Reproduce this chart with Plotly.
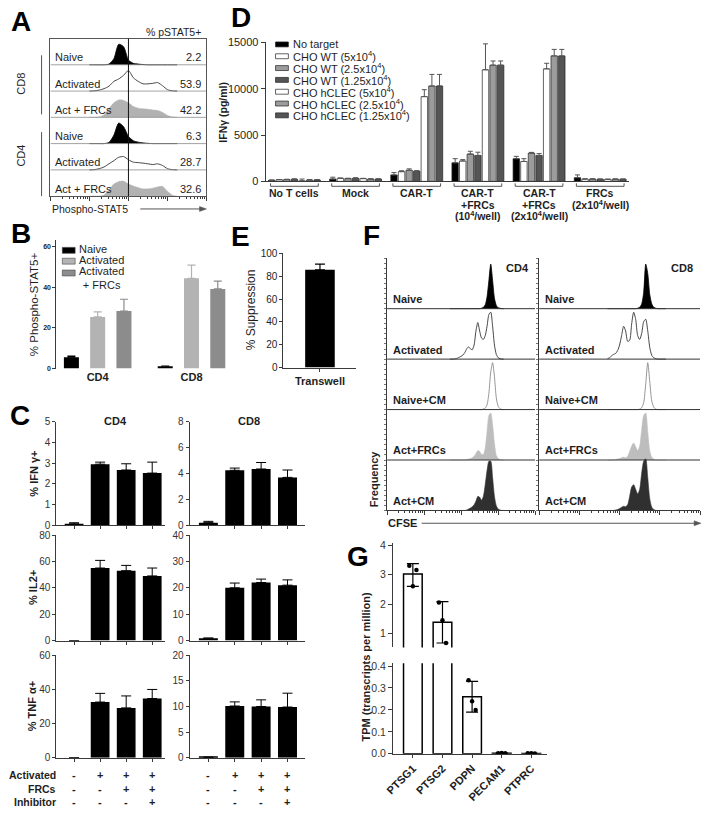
import math
import plotly.graph_objects as go

W, H = 703, 814
FONT = "Liberation Sans, Arial, Helvetica, sans-serif"
INK = "#1e1e1e"
AX = "#3a3a3a"

# ================= DATA =================
# ---- Panel A: phospho-STAT5 histograms (row heights) ----
a_row_labels = ["Naive", "Activated", "Act + FRCs", "Naive", "Activated", "Act + FRCs"]
a_pct_text = ["2.2", "53.9", "42.2", "6.3", "28.7", "32.6"]
a_side_labels = ["CD8", "CD4"]
a_bins = [1.0, 1.125, 1.25, 1.375, 1.5, 1.625, 1.75, 1.875, 2.0, 2.125, 2.25, 2.375,
          2.5, 2.625, 2.75, 2.875, 3.0, 3.125, 3.25]
a_cd8_naive = [0, 0, 0, 0, 0.03, 0.25, 0.85, 0.75, 0.2, 0.06, 0.03, 0.01, 0, 0, 0, 0, 0, 0, 0]
a_cd8_act = [0, 0.01, 0.04, 0.1, 0.2, 0.4, 0.5, 0.65, 0.85, 0.55, 0.4, 0.3, 0.3, 0.32, 0.35, 0.22, 0.06, 0.01, 0]
a_cd8_frc = [0, 0, 0.02, 0.1, 0.35, 0.6, 0.72, 0.7, 0.6, 0.45, 0.38, 0.35, 0.33, 0.3, 0.28, 0.2, 0.08, 0.02, 0]
a_cd4_naive = [0, 0, 0, 0, 0.05, 0.35, 0.85, 0.7, 0.3, 0.12, 0.06, 0.03, 0.01, 0, 0, 0, 0, 0, 0]
a_cd4_act = [0, 0.01, 0.05, 0.12, 0.25, 0.38, 0.52, 0.55, 0.42, 0.32, 0.3, 0.28, 0.25, 0.22, 0.25, 0.18, 0.05, 0.01, 0]
a_cd4_frc = [0, 0, 0, 0.05, 0.25, 0.5, 0.6, 0.62, 0.5, 0.42, 0.35, 0.3, 0.3, 0.33, 0.38, 0.4, 0.2, 0.04, 0]

# ---- Panel B ----
b_categories = ["CD4", "CD8"]
b_series = ["Naive", "Activated", "Activated<br>+ FRCs"]
b_naive = [5.6, 1.2]
b_naive_err = [0.5, 0.0]
b_act = [25.4, 44.4]
b_act_err = [2.5, 6.5]
b_frc = [28.3, 39.2]
b_frc_err = [5.8, 3.8]
b_ticks = [0, 20, 40, 60]

# ---- Panel C ----
c_activated = ["-", "+", "+", "+"]
c_frcs = ["-", "-", "+", "+"]
c_inhibitor = ["-", "-", "-", "+"]
c_cd4_ifn = [0.07, 2.95, 2.67, 2.52]
c_cd4_ifn_err = [0.05, 0.1, 0.3, 0.53]
c_cd8_ifn = [0.2, 4.25, 4.35, 3.7]
c_cd8_ifn_err = [0.1, 0.17, 0.5, 0.57]
c_cd4_il2 = [0, 55, 53, 49]
c_cd4_il2_err = [0, 5.8, 4, 6]
c_cd8_il2 = [0.9, 20, 22, 21]
c_cd8_il2_err = [0, 1.8, 1.3, 2]
c_cd4_tnf = [0, 32.6, 29.2, 34.7]
c_cd4_tnf_err = [0, 5.1, 7, 5.3]
c_cd8_tnf = [0.1, 10.1, 10.0, 9.9]
c_cd8_tnf_err = [0, 0.8, 1.3, 2.7]

# ---- Panel D ----
d_groups = [["No T cells"], ["Mock"], ["CAR-T"],
            ["CAR-T", "+FRCs", "(10<sup>4</sup>/well)"],
            ["CAR-T", "+FRCs", "(2x10<sup>4</sup>/well)"],
            ["FRCs", "(2x10<sup>4</sup>/well)"]]
d_series = ["No target", "CHO WT (5x10<sup>4</sup>)", "CHO WT (2.5x10<sup>4</sup>)",
            "CHO WT (1.25x10<sup>4</sup>)", "CHO hCLEC (5x10<sup>4</sup>)",
            "CHO hCLEC (2.5x10<sup>4</sup>)", "CHO hCLEC (1.25x10<sup>4</sup>)"]
d_no_target = [120, 250, 700, 2000, 2450, 400]
d_no_target_err = [30, 200, 250, 450, 250, 300]
d_wt5 = [180, 330, 1050, 2200, 2150, 250]
d_wt5_err = [20, 30, 100, 150, 300, 20]
d_wt25 = [200, 300, 1200, 2950, 3050, 250]
d_wt25_err = [30, 40, 150, 300, 80, 30]
d_wt125 = [220, 330, 1100, 2800, 2800, 230]
d_wt125_err = [60, 60, 60, 350, 200, 30]
d_hc5 = [50, 300, 9150, 12050, 12150, 220]
d_hc5_err = [200, 30, 750, 2800, 600, 20]
d_hc25 = [150, 250, 10300, 12550, 13550, 240]
d_hc25_err = [40, 30, 1250, 450, 700, 20]
d_hc125 = [150, 250, 10300, 12550, 13550, 230]
d_hc125_err = [50, 30, 1250, 450, 700, 30]
d_ticks = [0, 5000, 10000, 15000]
d_tick_text = ["0", "5000", "10000", "15000"]

# ---- Panel E ----
e_category = ["Transwell"]
e_value = [85.5]
e_err = [5.0]

# ---- Panel F: CFSE histograms ----
f_row_labels = ["Naive", "Activated", "Naive+CM", "Act+FRCs", "Act+CM"]
f_titles = ["CD4", "CD8"]
f_bins = [1.70, 1.75, 1.80, 1.85, 1.90, 1.95, 2.00, 2.05, 2.10, 2.15, 2.20, 2.25, 2.30, 2.35, 2.40,
          2.45, 2.50, 2.55, 2.60, 2.65, 2.70, 2.75, 2.80, 2.85, 2.90, 2.95, 3.00, 3.05, 3.10, 3.15]
f_cd4_naive = [0, 0, 0, 0, 0, 0, 0, 0, 0, 0, 0, 0, 0, 0, 0, 0, 0, 0.01, 0.03, 0.08, 0.25, 0.6, 0.95, 0.6, 0.22, 0.07, 0.02, 0.01, 0, 0]
f_cd4_act = [0, 0, 0, 0.01, 0.02, 0.04, 0.06, 0.09, 0.14, 0.22, 0.26, 0.22, 0.2, 0.3, 0.6, 0.78, 0.6, 0.45, 0.42, 0.5, 0.7, 0.95, 1.0, 0.7, 0.3, 0.1, 0.03, 0.01, 0, 0]
f_cd4_naive_cm = [0, 0, 0, 0, 0, 0, 0, 0, 0, 0, 0, 0, 0, 0, 0, 0, 0, 0, 0.01, 0.03, 0.1, 0.35, 0.8, 1.0, 0.7, 0.25, 0.07, 0.02, 0, 0]
f_cd4_act_frc = [0, 0, 0, 0, 0, 0, 0, 0, 0, 0.01, 0.02, 0.03, 0.05, 0.08, 0.14, 0.2, 0.18, 0.12, 0.12, 0.25, 0.6, 0.95, 1.0, 0.75, 0.35, 0.1, 0.03, 0.01, 0, 0]
f_cd4_act_cm = [0, 0, 0, 0, 0, 0, 0, 0, 0, 0.01, 0.03, 0.05, 0.08, 0.12, 0.2, 0.3, 0.28, 0.22, 0.3, 0.55, 0.85, 1.05, 1.05, 0.7, 0.3, 0.1, 0.03, 0.01, 0, 0]
f_cd8_naive = [0, 0, 0, 0, 0, 0, 0, 0, 0, 0, 0, 0, 0, 0, 0, 0.01, 0.03, 0.1, 0.35, 0.95, 0.75, 0.3, 0.1, 0.03, 0.01, 0, 0, 0, 0, 0]
f_cd8_act = [0.01, 0.03, 0.07, 0.1, 0.12, 0.18, 0.3, 0.5, 0.7, 0.6, 0.38, 0.4, 0.75, 1.0, 0.85, 0.5, 0.42, 0.55, 0.8, 0.85, 0.6, 0.25, 0.08, 0.03, 0.01, 0, 0, 0, 0, 0]
f_cd8_naive_cm = [0, 0, 0, 0, 0, 0, 0, 0, 0, 0, 0, 0, 0, 0, 0, 0, 0.01, 0.04, 0.15, 0.55, 1.0, 0.6, 0.18, 0.05, 0.01, 0, 0, 0, 0, 0]
f_cd8_act_frc = [0, 0, 0, 0, 0.01, 0.02, 0.03, 0.05, 0.06, 0.05, 0.08, 0.18, 0.3, 0.36, 0.28, 0.2, 0.3, 0.65, 0.95, 1.0, 0.6, 0.2, 0.06, 0.02, 0, 0, 0, 0, 0, 0]
f_cd8_act_cm = [0, 0, 0, 0, 0.01, 0.02, 0.04, 0.07, 0.09, 0.08, 0.12, 0.3, 0.5, 0.55, 0.45, 0.35, 0.45, 0.8, 1.05, 1.1, 0.7, 0.25, 0.07, 0.02, 0, 0, 0, 0, 0, 0]

# ---- Panel G ----
g_genes = ["PTSG1", "PTSG2", "PDPN", "PECAM1", "PTPRC"]
g_mean = [3.02, 1.38, 0.26, 0.002, 0.001]
g_err_plus = [0.35, 0.7, 0.07, 0.002, 0.001]
g_err_minus = [0.42, 0.7, 0.07, 0.002, 0.001]
g_rep1 = [3.3, 2.05, 0.335, 0.003, 0.002]
g_rep2 = [3.15, 0.68, 0.2, 0.002, 0.001]
g_rep3 = [2.6, 1.45, 0.24, 0.004, 0.002]

# ================= HELPERS =================
fig = go.Figure()
_axn = [0]


def axes(px0, px1, py0, py1, xd=None, yd=None):
    _axn[0] += 1
    n = _axn[0]
    s = "" if n == 1 else str(n)

    def base():
        return dict(showgrid=False, zeroline=False, showline=True, linecolor=AX, linewidth=1,
                    ticks="outside", tickcolor=AX, ticklen=4, tickwidth=1,
                    tickfont=dict(family=FONT, size=10, color=INK), fixedrange=True)
    xa = base()
    xa.update(domain=[px0 / W, px1 / W], anchor="y" + s)
    ya = base()
    ya.update(domain=[1 - py1 / H, 1 - py0 / H], anchor="x" + s)
    if xd:
        xa.update(xd)
    if yd:
        ya.update(yd)
    fig.update_layout({"xaxis" + s: xa, "yaxis" + s: ya})
    return "x" + s, "y" + s


def T(x, y, text, size=11, bold=False, xa="center", ya="middle", angle=0, color=INK,
      xref="paper", yref="paper"):
    if xref == "paper":
        x = x / W
    if yref == "paper":
        y = 1 - y / H
    if bold:
        text = "<b>" + text + "</b>"
    fig.add_annotation(x=x, y=y, xref=xref, yref=yref, text=text, showarrow=False,
                       font=dict(family=FONT, size=size, color=color),
                       xanchor=xa, yanchor=ya, textangle=angle, borderpad=0)


def L(x0, y0, x1, y1, color=AX, width=1, xref="paper", yref="paper", layer="above"):
    if xref == "paper":
        x0, x1 = x0 / W, x1 / W
    if yref == "paper":
        y0, y1 = 1 - y0 / H, 1 - y1 / H
    fig.add_shape(type="line", x0=x0, y0=y0, x1=x1, y1=y1, xref=xref, yref=yref,
                  line=dict(color=color, width=width), layer=layer)


def R(x0, y0, x1, y1, fill, line=AX, lw=0.8):
    fig.add_shape(type="rect", x0=x0 / W, x1=x1 / W, y0=1 - y1 / H, y1=1 - y0 / H,
                  xref="paper", yref="paper", fillcolor=fill, line=dict(color=line, width=lw))


def arrow(x0, x1, y, color="#555555"):
    L(x0, y, x1 - 3, y, color=color, width=1)
    p = "M {},{} L {},{} L {},{} Z".format((x1 - 7) / W, 1 - (y - 2.5) / H, x1 / W, 1 - y / H,
                                          (x1 - 7) / W, 1 - (y + 2.5) / H)
    fig.add_shape(type="path", path=p, xref="paper", yref="paper", fillcolor=color,
                  line=dict(color=color, width=0.5))


def log_minor(d0, d1):
    return [d + math.log10(k) for d in range(d0, d1) for k in range(2, 10)]


HSTYLE = {
    "black": ("#000000", "#000000", 0.8),
    "outline": ("rgba(0,0,0,0)", "#333333", 0.9),
    "outline_gray": ("rgba(0,0,0,0)", "#8a8a8a", 0.9),
    "gray": ("#b2b2b2", "#b2b2b2", 0.6),
    "light": ("#bdbdbd", "#bdbdbd", 0.6),
    "dark": ("#303030", "#303030", 0.6),
}


def add_hist(xr, yr, bins, heights, base, style, scale):
    fc, lc, lw = HSTYLE[style]
    fig.add_trace(go.Scatter(x=bins, y=[base] * len(bins), mode="lines",
                             line=dict(width=0, color="rgba(0,0,0,0)"),
                             xaxis=xr, yaxis=yr, hoverinfo="skip", showlegend=False))
    fig.add_trace(go.Scatter(x=bins, y=[base + h * scale for h in heights], mode="lines",
                             line=dict(color=lc, width=lw, shape="spline", smoothing=0.7),
                             fill="tonexty", fillcolor=fc,
                             xaxis=xr, yaxis=yr, hoverinfo="skip", showlegend=False))


def err(values, color, thick=1, width=4):
    return dict(type="data", symmetric=False, array=values, arrayminus=[0] * len(values),
                color=color, thickness=thick, width=width)


# ================= PANEL A =================
xa_, ya_ = axes(42, 200, 33, 193,
                xd=dict(range=[0, 4], tickvals=[0, 1, 2, 3, 4], showticklabels=False, mirror=True,
                        ticklen=4, linecolor="#555555",
                        minor=dict(tickmode="array", tickvals=log_minor(0, 4), ticklen=2,
                                   ticks="outside", tickcolor=AX)),
                yd=dict(range=[0, 6], ticks="", showticklabels=False, mirror=True,
                        linecolor="#555555"))
a_series = [a_cd8_naive, a_cd8_act, a_cd8_frc, a_cd4_naive, a_cd4_act, a_cd4_frc]
a_styles = ["black", "outline", "gray", "black", "outline", "gray"]
nA = len(a_series)
for i, hts in enumerate(a_series):
    base = nA - 1 - i
    add_hist(xa_, ya_, a_bins, hts, base, a_styles[i], 0.92)
    if base > 0:
        L(0, base, 4, base, color="#8a8a8a", width=0.8, xref=xa_, yref=ya_)
    T(0.1, base + 0.02, a_row_labels[i], size=11, xa="left", ya="bottom", xref=xa_, yref=ya_)
    T(3.88, base + 0.02, a_pct_text[i], size=11, xa="right", ya="bottom", xref=xa_, yref=ya_)
L(2, 0, 2, nA, color="#111111", width=1, xref=xa_, yref=ya_)
T(195, 33, "% pSTAT5+", size=10.5, xa="right", ya="bottom")
T(12, 79, a_side_labels[0], size=11, angle=-90)
T(12, 152, a_side_labels[1], size=11, angle=-90)
L(33, 50, 33, 110, color="#555555", width=1)
L(33, 128, 33, 193, color="#555555", width=1)
T(43, 206, "Phospho-STAT5", size=10.5, xa="left")
arrow(133, 200, 206)

# ================= PANEL B =================
xb, yb = axes(48, 240, 238, 368,
              xd=dict(range=[-0.44, 1.58], showline=False, ticks="", tickvals=[0, 1],
                      ticktext=b_categories,
                      tickfont=dict(family=FONT, size=11, color=INK, weight="bold")),
              yd=dict(range=[0, 63], tickvals=b_ticks, ticklen=3,
                      tickfont=dict(family=FONT, size=7, color=INK, weight="bold")))
b_cols = ["#000000", "#b3b3b3", "#8c8c8c"]
b_off = [-0.28, 0.0, 0.28]
for j, (vals, errs) in enumerate([(b_naive, b_naive_err), (b_act, b_act_err), (b_frc, b_frc_err)]):
    fig.add_trace(go.Bar(x=[k + b_off[j] for k in range(len(b_categories))], y=vals, width=0.16,
                         marker=dict(color=b_cols[j], line=dict(width=0)),
                         error_y=err(errs, b_cols[j], 1.2, 4),
                         xaxis=xb, yaxis=yb, showlegend=False))
T(25, 303, "% Phospho-STAT5+", size=11.5, angle=-90)
b_leg_y = [248, 259, 271]
for j, name in enumerate(b_series):
    R(54, b_leg_y[j] - 3, 67, b_leg_y[j] + 3, b_cols[j], line="#444444", lw=0.6)
    T(70, b_leg_y[j] - 1 if j < 2 else b_leg_y[j] + 5, name, size=11, xa="left")

# ================= PANEL E =================
xe, ye = axes(278, 352, 251, 367,
              xd=dict(range=[-0.5, 0.5], tickvals=[0], ticktext=e_category, ticklen=3,
                      tickfont=dict(family=FONT, size=11, color=INK, weight="bold")),
              yd=dict(range=[0, 100], tickvals=[0, 20, 40, 60, 80, 100], ticklen=3,
                      tickfont=dict(family=FONT, size=10, color=INK)))
fig.add_trace(go.Bar(x=[0], y=e_value, width=0.405, marker=dict(color="#000000", line=dict(width=0)),
                     error_y=err(e_err, "#000000", 1.2, 5), xaxis=xe, yaxis=ye, showlegend=False))
T(246, 308, "% Suppression", size=12, angle=-90)

# ================= PANEL C =================
c_rows = [(422, 527), (537, 644), (659, 763)]
c_cd4 = [(c_cd4_ifn, c_cd4_ifn_err, [0, 5], 1), (c_cd4_il2, c_cd4_il2_err, [0, 80], 20),
         (c_cd4_tnf, c_cd4_tnf_err, [0, 60], 20)]
c_cd8 = [(c_cd8_ifn, c_cd8_ifn_err, [0, 8], 2), (c_cd8_il2, c_cd8_il2_err, [0, 40], 10),
         (c_cd8_tnf, c_cd8_tnf_err, [0, 20], 5)]
c_cols = [((48, 158), [-0.68, 3.49], c_cd4), ((183, 300), [-0.71, 3.67], c_cd8)]
c_bottom_x = []
for (px0, px1), xr, rows in c_cols:
    for r, (vals, errs, yr, dt) in enumerate(rows):
        xc, yc = axes(px0, px1, c_rows[r][0], c_rows[r][1],
                      xd=dict(range=xr, tickvals=list(range(len(vals))), showticklabels=False,
                              ticklen=3),
                      yd=dict(range=yr, dtick=dt, ticklen=3,
                              tickfont=dict(family=FONT, size=10, color="#333333")))
        fig.add_trace(go.Bar(x=list(range(len(vals))), y=vals, width=0.72,
                             marker=dict(color="#000000", line=dict(width=0)),
                             error_y=err(errs, "#000000", 1, 5),
                             xaxis=xc, yaxis=yc, showlegend=False))
    c_bottom_x.append(xc)
T(108, 421, "CD4", size=11, bold=True)
T(243, 421, "CD8", size=11, bold=True)
T(25, 475, "% IFN γ+", size=11, bold=True, angle=-90)
T(25, 590, "% IL2+", size=11, bold=True, angle=-90)
T(23, 711, "% TNF α+", size=11, bold=True, angle=-90)
c_sign_rows = [("Activated", c_activated, 781), ("FRCs", c_frcs, 795), ("Inhibitor", c_inhibitor, 808)]
for name, signs, ypx in c_sign_rows:
    T(49, ypx, name, size=10.5, bold=True, xa="right")
    for xc in c_bottom_x:
        for k, sgn in enumerate(signs):
            fig.add_annotation(x=k, y=1 - ypx / H, xref=xc, yref="paper", text="<b>" + sgn + "</b>",
                               showarrow=False, font=dict(family=FONT, size=11, color=INK),
                               xanchor="center", yanchor="middle")

# ================= PANEL D =================
xd_, yd_ = axes(260, 628, 37, 178,
                xd=dict(range=[-0.47, 5.47], ticks="", showticklabels=False),
                yd=dict(range=[0, 15000], tickvals=d_ticks, ticktext=d_tick_text, ticklen=4,
                        tickfont=dict(family=FONT, size=11, color=INK)))
d_vals = [(d_no_target, d_no_target_err), (d_wt5, d_wt5_err), (d_wt25, d_wt25_err),
          (d_wt125, d_wt125_err), (d_hc5, d_hc5_err), (d_hc25, d_hc25_err), (d_hc125, d_hc125_err)]
d_cols = ["#000000", "#ffffff", "#9c9c9c", "#555555", "#ffffff", "#9c9c9c", "#555555"]
nS = len(d_vals)
for j, (vals, errs) in enumerate(d_vals):
    fig.add_trace(go.Bar(x=[g + (j - (nS - 1) / 2) * 0.124 for g in range(len(vals))], y=vals,
                         width=0.105, marker=dict(color=d_cols[j], line=dict(color="#222222", width=0.7)),
                         error_y=err(errs, "#555555", 1, 2.5),
                         xaxis=xd_, yaxis=yd_, showlegend=False))
for g, lines in enumerate(d_groups):
    fig.add_shape(type="path",
                  path="M {},{} L {},{} L {},{} L {},{}".format(
                      g - 0.39, 1 - 180 / H, g - 0.39, 1 - 183 / H, g + 0.39, 1 - 183 / H, g + 0.39, 1 - 180 / H),
                  xref=xd_, yref="paper", line=dict(color="#555555", width=1))
    for k, ln in enumerate(lines):
        fig.add_annotation(x=g, y=1 - (190 + 11.5 * k) / H, xref=xd_, yref="paper",
                           text="<b>" + ln + "</b>", showarrow=False,
                           font=dict(family=FONT, size=10.5, color=INK), xanchor="center", yanchor="middle")
T(217, 108, "IFNγ (pg/ml)", size=10.5, bold=True, angle=-90)
for j, name in enumerate(d_series):
    yy = 39 + 12 * j
    R(270, yy - 2.5, 283, yy + 2.5, d_cols[j], line="#222222", lw=0.7)
    T(287, yy, name, size=11, xa="left")

# ================= PANEL F =================
f_series = [[f_cd4_naive, f_cd4_act, f_cd4_naive_cm, f_cd4_act_frc, f_cd4_act_cm],
            [f_cd8_naive, f_cd8_act, f_cd8_naive_cm, f_cd8_act_frc, f_cd8_act_cm]]
f_styles = ["black", "outline", "outline_gray", "light", "dark"]
f_boxes = [(383, 533), (537, 700)]
f_title_x = [528, 694]
for c, (px0, px1) in enumerate(f_boxes):
    xf, yf = axes(px0, px1, 256, 512,
                  xd=dict(range=[0, 4], tickvals=[0, 1, 2, 3, 4], showticklabels=False, ticklen=4,
                          minor=dict(tickmode="array", tickvals=log_minor(0, 4), ticklen=2,
                                     ticks="outside", tickcolor=AX)),
                  yd=dict(range=[0, 5], dtick=0.1, ticklen=2, tickcolor="#777777",
                          showticklabels=False))
    nF = len(f_series[c])
    for i, hts in enumerate(f_series[c]):
        base = nF - 1 - i
        add_hist(xf, yf, f_bins, hts, base, f_styles[i], 0.93)
        if base > 0:
            L(0, base, 4, base, color="#333333", width=1, xref=xf, yref=yf)
        T(0.12, base + 0.05, f_row_labels[i], size=11, bold=True, xa="left", ya="bottom",
          xref=xf, yref=yf)
    T(f_title_x[c], 266, f_titles[c], size=11, bold=True, xa="right")
T(370, 480, "Frequency", size=11, bold=True, angle=-90)
T(383, 525, "CFSE", size=11, bold=True, xa="left")
arrow(418, 701, 525)

# ================= PANEL G =================
g_x = list(range(len(g_genes)))
g_jit = [-0.12, 0.12, 0.0]
xg1, yg1 = axes(389, 545, 545, 651,
                xd=dict(range=[-0.67, 4.53], visible=False),
                yd=dict(range=[0.53, 4.07], tickvals=[1, 2, 3, 4], ticklen=4,
                        tickfont=dict(family=FONT, size=10.5, color="#333333")))
xg2, yg2 = axes(389, 545, 667, 759,
                xd=dict(range=[-0.67, 4.53], tickvals=g_x, ticktext=g_genes, tickangle=-45,
                        ticklen=3, tickfont=dict(family=FONT, size=11, color=INK, weight="bold")),
                yd=dict(range=[0, 0.413], tickvals=[0, 0.1, 0.2, 0.3, 0.4], tickformat=".1f",
                        ticklen=4, tickfont=dict(family=FONT, size=10.5, color="#333333")))
for xg, yg in [(xg1, yg1), (xg2, yg2)]:
    fig.add_trace(go.Bar(x=g_x, y=g_mean, width=0.63,
                         marker=dict(color="#ffffff", line=dict(color="#000000", width=1.5)),
                         xaxis=xg, yaxis=yg, showlegend=False))
    fig.add_trace(go.Scatter(x=g_x, y=g_mean, mode="markers", marker=dict(size=1, color="rgba(0,0,0,0)"),
                             error_y=dict(type="data", symmetric=False, array=g_err_plus,
                                          arrayminus=g_err_minus, color="#000000", thickness=1.2, width=6),
                             xaxis=xg, yaxis=yg, showlegend=False))
    for r, reps in enumerate([g_rep1, g_rep2, g_rep3]):
        fig.add_trace(go.Scatter(x=[k + g_jit[r] for k in g_x], y=reps, mode="markers",
                                 marker=dict(size=4.5, color="#000000"),
                                 xaxis=xg, yaxis=yg, showlegend=False))
T(362, 671, "TPM (transcripts per million)", size=11, bold=True, angle=-90)

# ================= PANEL LETTERS =================
for letter, lx, ly in [("A", 12, 16), ("B", 12, 231), ("C", 11, 416), ("D", 235, 12),
                       ("E", 234, 234), ("F", 367, 233), ("G", 354, 559)]:
    T(lx, ly, letter, size=28, bold=True, color="#000000")

fig.update_layout(width=W, height=H, margin=dict(l=0, r=0, t=0, b=0),
                  paper_bgcolor="white", plot_bgcolor="white", showlegend=False,
                  barmode="overlay", font=dict(family=FONT, color=INK))
fig.write_html("out.html", config={"displayModeBar": False},
               post_script="document.body.style.margin='0';document.body.style.padding='0';")
